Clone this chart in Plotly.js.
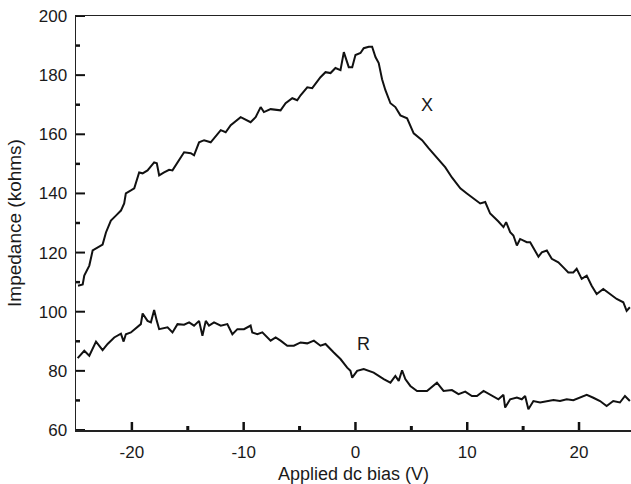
<!DOCTYPE html>
<html>
<head>
<meta charset="utf-8">
<script src="https://cdn.plot.ly/plotly-3.0.1.min.js"></script>
<style>html,body{margin:0;padding:0;background:#fff;}#chart{width:631px;height:484px;}</style>
</head>
<body>
<div id="chart"></div>
<script>
// Applied dc bias (V) and impedance (kohms) for the X (reactance) curve
const biasX = [-24.82,-24.40,-24.26,-23.81,-23.51,-23.21,-22.62,-22.32,-21.88,-21.43,-20.98,-20.69,-20.54,-20.09,-19.79,-19.35,-19.04,-18.60,-18.01,-17.77,-17.56,-17.12,-16.67,-16.37,-15.92,-15.33,-14.73,-14.44,-13.99,-13.54,-12.95,-12.05,-11.61,-11.16,-10.27,-9.97,-9.38,-8.93,-8.48,-8.19,-7.59,-6.70,-6.25,-5.65,-5.21,-4.91,-4.31,-3.87,-3.13,-2.68,-2.23,-1.79,-1.34,-1.04,-0.80,-0.60,-0.29,0.00,0.45,0.74,1.19,1.49,1.79,2.08,2.38,2.68,3.13,3.57,4.02,4.62,5.21,5.96,6.54,7.29,8.04,8.63,9.38,9.97,10.56,11.16,11.61,12.05,12.79,13.24,13.48,13.84,14.13,14.44,14.73,15.33,15.63,16.07,16.37,16.67,17.12,17.56,18.15,18.60,19.04,19.49,19.79,20.24,20.69,21.13,21.58,22.17,22.77,23.37,23.96,24.26,24.55];
const impX = [108.8,109.2,112.2,115.6,120.7,121.4,122.7,126.8,130.8,132.5,134.2,136.6,140.0,141.0,141.7,147.1,146.8,147.8,150.5,150.2,146.1,147.1,148.0,147.8,150.5,153.9,153.6,152.9,157.3,158.0,157.3,161.4,160.7,163.1,165.8,165.3,164.1,165.8,169.2,167.5,168.5,168.1,170.5,172.2,171.5,173.2,175.9,175.6,179.3,181.0,180.7,182.4,181.7,187.8,185.1,182.7,182.7,186.8,187.5,189.1,189.6,189.6,186.1,184.1,178.6,174.9,170.5,169.2,166.4,165.4,160.3,158.0,155.3,151.9,148.8,145.4,141.7,140.0,138.3,136.6,137.1,133.2,130.5,128.6,130.3,126.9,125.8,122.4,124.6,123.5,123.5,120.7,118.6,120.1,120.7,117.9,116.7,115.0,113.3,113.3,114.5,111.1,112.2,108.8,106.0,107.7,106.0,104.3,103.2,100.3,101.5];

// Applied dc bias (V) and impedance (kohms) for the R (resistance) curve
const biasR = [-24.85,-24.26,-23.81,-23.21,-22.62,-22.17,-21.58,-20.98,-20.74,-20.54,-20.09,-19.64,-19.20,-19.04,-18.60,-18.30,-18.01,-17.77,-17.56,-16.81,-16.37,-15.92,-15.33,-14.88,-14.44,-13.99,-13.69,-13.39,-13.10,-12.65,-12.05,-11.46,-11.01,-10.56,-9.97,-9.38,-9.23,-8.78,-8.33,-7.59,-7.14,-6.70,-6.10,-5.51,-4.91,-4.31,-3.72,-3.13,-2.68,-1.94,-1.34,-0.74,-0.45,-0.29,0.15,0.74,1.63,2.53,3.13,3.57,3.87,4.17,4.46,4.91,5.51,6.40,7.29,7.88,8.63,9.22,9.82,10.42,10.87,11.46,12.21,12.79,13.24,13.39,13.84,14.44,14.88,15.18,15.47,15.92,16.52,17.12,17.71,18.30,18.90,19.49,20.09,20.69,21.28,21.88,22.47,23.06,23.66,24.11,24.55];
const impR = [84.3,86.8,85.1,89.9,87.0,89.1,91.3,92.6,89.9,92.4,93.0,94.5,95.8,99.4,96.9,96.4,100.6,96.9,94.1,94.7,93.0,95.8,95.6,96.4,95.3,96.9,91.9,96.9,95.3,96.4,95.3,95.8,92.4,94.1,94.1,95.3,93.0,92.4,93.0,90.2,91.3,90.2,88.5,88.5,89.6,89.3,90.2,88.5,89.1,86.2,84.0,81.1,80.0,77.7,80.0,80.6,79.4,77.2,76.0,78.3,76.6,80.2,77.2,74.9,73.2,73.2,76.0,73.2,73.5,72.1,73.0,71.5,71.5,73.2,71.5,70.4,71.9,67.6,70.4,71.0,70.4,71.5,67.0,69.8,69.3,69.8,70.1,69.8,70.4,70.1,70.9,71.9,70.9,69.8,68.1,69.8,69.3,71.5,69.8];

// Axis tick labels
const xTickVals = [-20, -10, 0, 10, 20];
const xTickText = ['-20', '-10', '0', '10', '20'];
const xMinorVals = [-15, -5, 5, 15];
const yTickVals = [60, 80, 100, 120, 140, 160, 180, 200];
const yTickText = ['60', '80', '100', '120', '140', '160', '180', '200'];
const yMinorVals = [70, 90, 110, 130, 150, 170, 190];

// Curve labels
const curveLabels = ['X', 'R'];
const labelBias = [6.43, 0.71];
const labelImp = [169.8, 89.2];

const FONT = 'Liberation Sans, Arial, sans-serif';
const lineStyle = {color: '#111', width: 2};
const traces = [
  {x: biasX, y: impX, type: 'scatter', mode: 'lines', line: lineStyle, hoverinfo: 'skip'},
  {x: biasR, y: impR, type: 'scatter', mode: 'lines', line: lineStyle, hoverinfo: 'skip'}
];

// inward tick marks, sized in pixels, placed through the axis scales
const xTickShapes = (vals, len, w) => vals.map(v => ({
  type: 'line', layer: 'above', xref: 'x', x0: v, x1: v,
  yref: 'paper', ysizemode: 'pixel', yanchor: 0, y0: 0, y1: len,
  line: {color: '#111', width: w}
}));
const yTickShapes = (vals, len, w) => vals.map(v => ({
  type: 'line', layer: 'above', yref: 'y', y0: v, y1: v,
  xref: 'paper', xsizemode: 'pixel', xanchor: 0, x0: 0, x1: len,
  line: {color: '#111', width: w}
}));

const tickFont = {family: FONT, size: 17, color: '#1a1a1a'};
const layout = {
  width: 631, height: 484,
  margin: {l: 76, r: 0, t: 16, b: 54},
  paper_bgcolor: '#fff', plot_bgcolor: '#fff',
  showlegend: false,
  font: tickFont,
  xaxis: {
    range: [-25, 24.65], showgrid: false, zeroline: false,
    showline: true, linecolor: '#222', linewidth: 1.5, mirror: true,
    ticks: '', tickmode: 'array', tickvals: xTickVals, ticktext: xTickText,
    tickfont: tickFont, ticklabelstandoff: 6,
    title: {text: 'Applied dc bias (V)', font: {family: FONT, size: 18, color: '#1a1a1a'}, standoff: 8}
  },
  yaxis: {
    range: [60, 200], showgrid: false, zeroline: false,
    showline: true, linecolor: '#222', linewidth: 1.5,
    ticks: '', tickmode: 'array', tickvals: yTickVals, ticktext: yTickText,
    tickfont: tickFont, ticklabelstandoff: 4,
    title: {text: 'Impedance (kohms)', font: {family: FONT, size: 19, color: '#1a1a1a'}, standoff: 12}
  },
  shapes: [].concat(
    xTickShapes(xTickVals, 8, 2.5),
    xTickShapes(xMinorVals, 4, 3),
    yTickShapes(yTickVals, 9, 2),
    yTickShapes(yMinorVals, 4, 2.5)
  ),
  annotations: curveLabels.map((t, i) => ({
    x: labelBias[i], y: labelImp[i], xref: 'x', yref: 'y', text: t, showarrow: false,
    font: {family: FONT, size: 18, color: '#1a1a1a'}
  }))
};

Plotly.newPlot('chart', traces, layout, {staticPlot: true, displayModeBar: false});
</script>
</body>
</html>
